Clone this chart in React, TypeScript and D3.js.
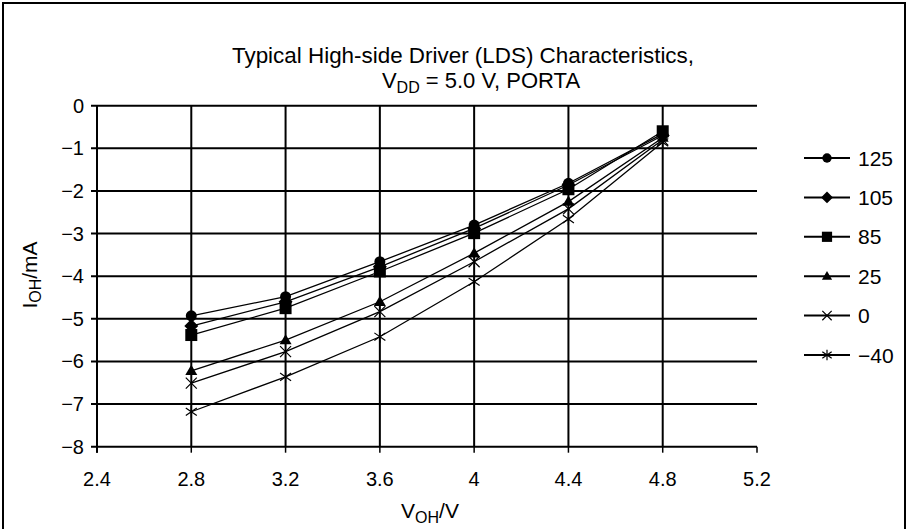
import React from "react";
import * as d3 from "d3";

const xValues = [2.8, 3.2, 3.6, 4.0, 4.4, 4.8];
const seriesNames = ["125", "105", "85", "25", "0", "\u221240"];
const markerTypes = ["circle", "diamond", "square", "triangle", "x", "asterisk"];
const s125 = [-4.93, -4.48, -3.66, -2.8, -1.82, -0.66];
const s105 = [-5.17, -4.6, -3.78, -2.88, -1.86, -0.7];
const s85 = [-5.38, -4.75, -3.89, -2.99, -1.96, -0.6];
const s25 = [-6.22, -5.5, -4.6, -3.46, -2.25, -0.75];
const s0 = [-6.51, -5.77, -4.83, -3.66, -2.42, -0.8];
const sm40 = [-7.18, -6.36, -5.42, -4.13, -2.66, -0.86];
const seriesValues = [s125, s105, s85, s25, s0, sm40];
const xTicks = [2.4, 2.8, 3.2, 3.6, 4, 4.4, 4.8, 5.2];
const yTicks = [0, -1, -2, -3, -4, -5, -6, -7, -8];

const FONT = "'Liberation Sans', Arial, Helvetica, sans-serif";

function Marker({ type, x, y, s = 1 }: { type: string; x: number; y: number; s?: number }) {
  switch (type) {
    case "circle":
      return <circle cx={x} cy={y} r={5.5 * s} fill="#000" />;
    case "diamond": {
      const r = 7 * s;
      return <path d={`M${x},${y - r}L${x + r},${y}L${x},${y + r}L${x - r},${y}Z`} fill="#000" />;
    }
    case "square": {
      const h = 6 * s;
      return <rect x={x - h} y={y - h} width={2 * h} height={2 * h} fill="#000" />;
    }
    case "triangle": {
      const r = 6 * s;
      return <path d={`M${x},${y - r}L${x + r},${y + r * 0.7}L${x - r},${y + r * 0.7}Z`} fill="#000" />;
    }
    case "x": {
      const r = 5.5 * s;
      return (
        <path d={`M${x - r},${y - r}L${x + r},${y + r}M${x - r},${y + r}L${x + r},${y - r}`} stroke="#000" strokeWidth={1.2} />
      );
    }
    case "asterisk": {
      const r = 5.5 * s;
      return (
        <path
          d={`M${x - r},${y - r * 0.7}L${x + r},${y + r * 0.7}M${x - r},${y + r * 0.7}L${x + r},${y - r * 0.7}M${x},${y - r * 1.1}L${x},${y + r * 1.1}`}
          stroke="#000"
          strokeWidth={1.2}
        />
      );
    }
  }
  return null;
}

export default function App() {
  const W = 909;
  const H = 529;
  const x = d3.scaleLinear().domain([2.4, 5.2]).range([97, 757]);
  const y = d3.scaleLinear().domain([0, -8]).range([105.7, 446.7]);
  const line = d3
    .line<[number, number]>()
    .x((d) => x(d[0]))
    .y((d) => y(d[1]));
  const fmt = (v: number) => (v < 0 ? "\u2212" + Math.abs(v) : String(v));
  const legendY0 = 158;
  const legendStep = 39.4;

  return (
    <svg width={W} height={H} style={{ position: "absolute", left: 0, top: 0 }} fontFamily={FONT}>
      <rect x={0} y={0} width={W} height={H} fill="#fff" />
      <rect x={3} y={3} width={902} height={540} fill="none" stroke="#000" strokeWidth={2} />
      {/* title */}
      <text x={463} y={63} textAnchor="middle" fontSize={22} textLength={462} lengthAdjust="spacingAndGlyphs">
        Typical High-side Driver (LDS) Characteristics,
      </text>
      <text x={481} y={88} textAnchor="middle" fontSize={22}>
        V<tspan fontSize={16} dy={5}>DD</tspan>
        <tspan dy={-5}> = 5.0 V, PORTA</tspan>
      </text>
      {/* horizontal gridlines */}
      {yTicks.map((t) => (
        <g key={"h" + t}>
          <line x1={x(2.4) - 6} x2={x(5.2)} y1={y(t)} y2={y(t)} stroke="#000" strokeWidth={2} />
          <text x={84} y={y(t) + 7} textAnchor="end" fontSize={20}>
            {fmt(t)}
          </text>
        </g>
      ))}
      {/* vertical gridlines */}
      {xTicks.map((t) => (
        <g key={"v" + t}>
          {t > 2.4 && t < 5.2 && (
            <line x1={x(t)} x2={x(t)} y1={y(0)} y2={y(-8)} stroke="#000" strokeWidth={2} />
          )}
          <line x1={x(t)} x2={x(t)} y1={y(-8)} y2={y(-8) + 6} stroke="#000" strokeWidth={1.5} />
          <text x={x(t)} y={y(-8) + 39} textAnchor="middle" fontSize={20}>
            {String(t)}
          </text>
        </g>
      ))}
      {/* y axis */}
      <line x1={x(2.4)} x2={x(2.4)} y1={y(0)} y2={y(-8) + 6} stroke="#000" strokeWidth={2} />
      {/* series */}
      {seriesValues.map((vals, i) => {
        const pts = vals.map((v, j) => [xValues[j], v] as [number, number]);
        return (
          <g key={"s" + i}>
            <path d={line(pts) || ""} fill="none" stroke="#000" strokeWidth={1.3} />
            {pts.map((p, j) => (
              <Marker key={j} type={markerTypes[i]} x={x(p[0])} y={y(p[1])} />
            ))}
          </g>
        );
      })}
      {/* legend */}
      {seriesNames.map((name, i) => {
        const ly = legendY0 + i * legendStep;
        return (
          <g key={"l" + i}>
            <line x1={804} x2={850} y1={ly} y2={ly} stroke="#000" strokeWidth={2} />
            <Marker type={markerTypes[i]} x={827} y={ly} s={0.85} />
            <text x={858} y={ly + 7.5} fontSize={21}>
              {name}
            </text>
          </g>
        );
      })}
      {/* axis titles */}
      <text x={0} y={0} fontSize={21} transform={`translate(37,275) rotate(-90)`} textAnchor="middle">
        I<tspan fontSize={16} dy={4}>OH</tspan>
        <tspan dy={-4}>/mA</tspan>
      </text>
      <text x={430} y={518} fontSize={21} textAnchor="middle">
        V<tspan fontSize={16} dy={5}>OH</tspan>
        <tspan dy={-5}>/V</tspan>
      </text>
    </svg>
  );
}
